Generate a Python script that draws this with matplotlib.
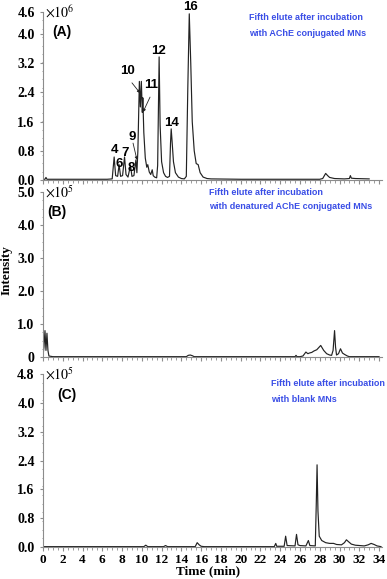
import matplotlib
matplotlib.use("Agg")
from matplotlib import pyplot as plt
from matplotlib.ticker import MultipleLocator, NullFormatter

# panel A: fifth elute, AChE conjugated MNs (intensity x 10^6)
time_a = [0.0, 0.2, 0.3, 0.4, 1.0, 3.0, 5.0, 6.5, 7.0, 7.2, 7.35, 7.55, 7.7, 7.85,
          8.05, 8.25, 8.4, 8.6, 8.85, 9.0, 9.2, 9.4, 9.5, 9.6, 9.75, 9.85, 9.95,
          10.05, 10.1, 10.2, 10.35, 10.5, 10.6, 10.75, 10.9, 11.05, 11.15, 11.3,
          11.5, 11.6, 11.75, 11.85, 12.0, 12.2, 12.4, 12.6, 12.8, 12.9, 12.97,
          13.05, 13.2, 13.4, 13.7, 14.0, 14.3, 14.5, 14.65, 14.8, 14.95, 15.1,
          15.3, 15.5, 15.7, 15.9, 16.2, 16.6, 17.0, 20.0, 24.0, 28.0, 28.3, 28.6,
          28.8, 29.0, 29.5, 30.5, 31.0, 31.1, 31.2, 31.6, 33.0]
int_a = [0.02, 0.02, 0.07, 0.02, 0.02, 0.02, 0.02, 0.02, 0.03, 0.63, 0.12, 0.10,
         0.42, 0.10, 0.12, 0.63, 0.15, 0.08, 0.40, 0.10, 0.12, 0.55, 0.20, 0.80,
         2.70, 2.00, 2.70, 1.85, 2.25, 1.30, 0.60, 0.35, 0.42, 0.22, 0.15, 0.28,
         0.12, 0.08, 0.06, 0.40, 3.37, 1.50, 0.50, 0.20, 0.10, 0.07, 0.10, 1.00,
         1.40, 1.10, 0.50, 0.20, 0.08, 0.04, 0.03, 0.10, 2.50, 4.55, 3.20, 1.60,
         0.80, 0.45, 0.42, 0.20, 0.08, 0.04, 0.03, 0.02, 0.02, 0.02, 0.04, 0.18,
         0.12, 0.07, 0.04, 0.03, 0.04, 0.12, 0.05, 0.04, 0.03]

# panel B: denatured AChE conjugated MNs (intensity x 10^5)
time_b = [0.0, 0.1, 0.2, 0.3, 0.4, 0.5, 0.6, 1.0, 5.0, 10.0, 14.5, 14.7, 14.9,
          15.1, 15.3, 20.0, 25.5, 25.6, 25.7, 26.0, 26.3, 26.6, 26.8, 26.95,
          27.2, 27.4, 27.7, 28.1, 28.4, 28.7, 29.0, 29.2, 29.35, 29.5, 29.6,
          29.7, 29.9, 30.1, 30.3, 30.5, 30.8, 31.0, 34.0]
int_b = [0.05, 0.30, 0.80, 0.20, 0.72, 0.20, 0.03, 0.01, 0.01, 0.01, 0.01, 0.05,
         0.06, 0.04, 0.01, 0.01, 0.01, 0.05, 0.01, 0.01, 0.03, 0.15, 0.10, 0.12,
         0.14, 0.18, 0.22, 0.35, 0.20, 0.10, 0.06, 0.05, 0.20, 0.80, 0.30, 0.06,
         0.10, 0.25, 0.12, 0.08, 0.03, 0.01, 0.01]

# panel C: blank MNs (intensity x 10^5)
time_c = [0.0, 5.0, 10.2, 10.4, 10.6, 12.2, 12.4, 12.6, 15.4, 15.6, 15.8, 16.0,
          16.3, 20.0, 23.4, 23.55, 23.65, 24.4, 24.55, 24.7, 25.5, 25.65, 25.8,
          26.0, 26.6, 26.85, 27.0, 27.55, 27.65, 27.73, 27.82, 27.95, 28.2, 28.6,
          29.0, 29.4, 29.7, 30.2, 30.5, 30.7, 30.9, 31.2, 31.6, 32.5, 32.9, 33.2,
          33.5, 33.8, 34.2]
int_c = [0.01, 0.01, 0.01, 0.05, 0.01, 0.01, 0.04, 0.01, 0.01, 0.12, 0.06, 0.02,
         0.01, 0.01, 0.01, 0.10, 0.02, 0.02, 0.30, 0.04, 0.03, 0.35, 0.06, 0.04,
         0.03, 0.18, 0.04, 0.03, 1.20, 2.28, 1.00, 0.30, 0.18, 0.12, 0.10, 0.10,
         0.07, 0.06, 0.12, 0.20, 0.15, 0.08, 0.05, 0.03, 0.06, 0.10, 0.07, 0.03,
         0.01]

ticks_a = [0.0, 0.8, 1.6, 2.4, 3.2, 4.0, 4.6]
labels_a = ["0.0", "0.8", "1.6", "2.4", "3.2", "4.0", "4.6"]
ticks_b = [0, 1, 2, 3, 4, 5]
labels_b = ["0", "1.0", "2.0", "3.0", "4.0", "5.0"]
ticks_c = [0.0, 0.8, 1.6, 2.4, 3.2, 4.0, 4.8]
labels_c = ["0.0", "0.8", "1.6", "2.4", "3.2", "4.0", "4.8"]
x_ticks = list(range(0, 35, 2))

peak_labels = ["4", "6", "7", "8", "9", "10", "11", "12", "14", "16"]

W, H = 387, 579
serif = "Liberation Serif"
sans = "Liberation Sans"
blue = "#3a4ee6"
spine_col = "#8c8c8c"

fig = plt.figure(figsize=(W / 100, H / 100), dpi=100)


def rect(top, bottom, left=43, right=382):
    return [left / W, 1 - bottom / H, (right - left) / W, (bottom - top) / H]


ax_a = fig.add_axes(rect(12, 180))
ax_b = fig.add_axes(rect(192, 357))
ax_c = fig.add_axes(rect(374, 547))

panels = [
    (ax_a, time_a, int_a, 4.6, ticks_a, labels_a, r"$\times10^6$", "(A)", 0.9),
    (ax_b, time_b, int_b, 5.0, ticks_b, labels_b, r"$\times10^5$", "(B)", 0.4),
    (ax_c, time_c, int_c, 4.8, ticks_c, labels_c, r"$\times10^5$", "(C)", 1.4),
]

for ax, t, y, ymax, yt, yl, mult, tag, tag_x in panels:
    ax.plot(t, y, color="#222222", lw=0.85)
    ax.set_xlim(0, 34.3)
    ax.set_ylim(0, ymax)
    ax.set_yticks(yt)
    ax.set_yticklabels(yl, fontfamily=serif, fontweight="bold", fontsize=10)
    ax.yaxis.set_minor_locator(MultipleLocator(ymax / 20))
    ax.xaxis.set_minor_locator(MultipleLocator(0.5))
    for s in ("top", "right"):
        ax.spines[s].set_visible(False)
    for s in ("left", "bottom"):
        ax.spines[s].set_color(spine_col)
        ax.spines[s].set_linewidth(0.8)
    ax.tick_params(axis="both", which="both", colors=spine_col, direction="out")
    ax.tick_params(axis="y", which="major", length=2, pad=4, labelcolor="black")
    ax.tick_params(axis="y", which="minor", length=1)
    ax.tick_params(axis="x", which="major", length=3, pad=2, labelcolor="black")
    ax.tick_params(axis="x", which="minor", length=2)
    ax.text(0.2, ymax, mult, fontfamily=serif, fontsize=10, va="center",
            ha="left", math_fontfamily="stix")
    ax.text(tag_x, ymax * 0.88, tag, fontfamily=sans, fontweight="bold",
            fontsize=10, va="center", ha="left")

for ax in (ax_a, ax_b):
    ax.set_xticks(x_ticks)
    ax.xaxis.set_major_formatter(NullFormatter())

ax_c.set_xticks(x_ticks)
ax_c.set_xticklabels([str(v) for v in x_ticks], fontfamily=serif,
                     fontweight="bold", fontsize=9.5)

# peak numbers in panel A
label_pos = {"4": (7.19, 0.82), "6": (7.69, 0.44), "7": (8.3, 0.74),
             "8": (8.9, 0.33), "9": (9.0, 1.18), "10": (8.5, 2.99),
             "11": (10.93, 2.6), "12": (11.64, 3.53), "14": (12.96, 1.56),
             "16": (14.88, 4.74)}
for lab in peak_labels:
    px, py = label_pos[lab]
    ax_a.text(px, py, lab, fontfamily=sans, fontweight="bold", fontsize=9.5,
              ha="center", va="center", clip_on=False)

arrows = [((9.0, 2.66), (9.82, 2.38)), ((10.83, 2.27), (10.12, 1.86)),
          ((9.11, 1.01), (9.51, 0.55))]
for start, end in arrows:
    ax_a.annotate("", xy=end, xytext=start,
                  arrowprops=dict(arrowstyle="-|>", lw=0.6, color="#222222",
                                  mutation_scale=4, shrinkA=0, shrinkB=0))

# blue captions
captions = [
    (249, 17, "Fifth elute after incubation"),
    (249, 33, "with AChE conjugated MNs"),
    (209, 192, "Fifth elute after incubation"),
    (209, 207, "with denatured AChE conjugated MNs"),
    (271, 383, "Fifth elute after incubation"),
    (271, 399, "with blank MNs"),
]
for x, y, s in captions:
    fig.text(x / W, 1 - y / H, s, color=blue, fontfamily=sans,
             fontweight="bold", fontsize=6.5, ha="left", va="center")

fig.text(7 / W, 1 - 270 / H, "Intensity", rotation=90, fontfamily=serif,
         fontweight="bold", fontsize=9.5, ha="center", va="center")
fig.text(208 / W, 1 - 571 / H, "Time (min)", fontfamily=serif,
         fontweight="bold", fontsize=9.5, ha="center", va="center")

fig.savefig("out.png", dpi=100)
